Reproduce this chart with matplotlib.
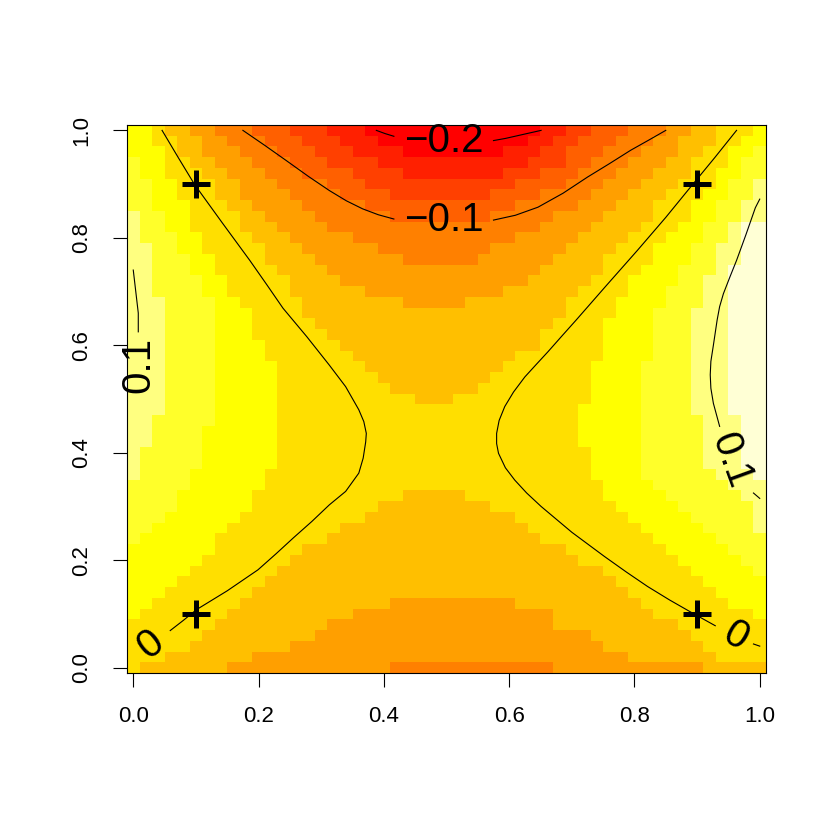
import numpy as np
import matplotlib
matplotlib.use("Agg")
import matplotlib.pyplot as plt
from matplotlib.colors import ListedColormap, BoundaryNorm

plt.rcParams["font.family"] = ["Liberation Sans", "DejaVu Sans"]

# heat.colors(12), lowest class first
heat_colors = ["#FF0000", "#FF2000", "#FF4000", "#FF6000", "#FF8000", "#FF9F00",
               "#FFBF00", "#FFDF00", "#FFFF00", "#FFFF2A", "#FFFF80", "#FFFFD5"]

# colour class of each cell (hex digit), top row (y = 1) first
cell_rows = [
    "8876655444 3332221110 0000000000 0001122333 4445566777 8",
    "8877665544 4333222111 0000000000 0011223334 4455666778 8",
    "8887665554 4433322211 1100000000 1112233344 4555667788 9",
    "9887766555 4443332222 1111111111 1122233444 5556677789 9",
    "9887776655 5444333322 2211111111 2223334445 5566677889 9",
    "9988777665 5544443332 2222222222 2333344455 5666777899 a",
    "9988777665 5554444333 3222222223 3334444555 6667778899 a",
    "9988877766 5555444443 3333333333 3444445556 667778899a a",
    "a998877776 6555544444 4333333334 4444555566 667778899a a",
    "a998877776 6655554444 4444444444 4445555666 67778899ab b",
    "a999887777 6665555544 4444444444 4555556666 77788899ab b",
    "aa99887777 7666555555 4444444445 5555566667 7788899aab b",
    "aa99988777 7666655555 5544444455 5555666677 7788899aab b",
    "aa99988777 7766665555 5555555555 5556666677 7888999abb b",
    "aa99998877 7776666555 5555555555 5566666777 888899aabb b",
    "aa99998877 7776666665 5555555555 6666667777 888999aabb b",
    "aaa9999887 7777666666 6655555666 6666677778 888999aabb b",
    "aaa9999888 7777666666 6666666666 6666677778 88999aaabb b",
    "aaa9999888 7777766666 6666666666 6666777788 88999aaabb b",
    "aaa9999888 7777776666 6666666666 6667777788 88999aaabb b",
    "aaa9999888 8777777666 6666666666 6667777788 88999aaabb b",
    "aaa9999888 8777777766 6666666666 6777777788 88999aaabb b",
    "aaa9999888 8877777776 6666666666 7777777888 89999aaabb b",
    "aaa9999888 8877777777 6666666667 7777777888 89999aaabb b",
    "aaa9999888 8877777777 7666666677 7777777888 89999aaabb b",
    "aaa9999888 8877777777 7776667777 7777777888 89999aaabb b",
    "aaa9999888 8877777777 7777777777 7777778888 89999aaabb b",
    "aa99999888 8877777777 7777777777 7777778888 899999aaab b",
    "aa99998888 8877777777 7777777777 7777778888 899999aaab b",
    "aa99998888 8877777777 7777777777 7777778888 899999aaab b",
    "a999998888 8877777777 7777777777 7777777888 899999aaab b",
    "a999998888 8877777777 7777777777 7777777888 899999aaab b",
    "a999988888 8777777777 7777777777 7777777888 8999999aaa b",
    "9999988888 8777777777 7777777777 7777777788 88999999aa a",
    "9999888888 7777777777 7766666777 7777777788 888999999a a",
    "9999888888 7777777777 6666666667 7777777778 8888999999 a",
    "9998888887 7777777776 6666666666 6777777777 8888899999 a",
    "9988888877 7777777666 6666666666 6677777777 7888889999 a",
    "9888888777 7777776666 6666666666 6667777777 7788888999 9",
    "8888888777 7777666666 6666666666 6666677777 7778888899 9",
    "8888887777 7776666666 6666666666 6666667777 7777888889 9",
    "8888877777 7766666666 6666666666 6666666677 7777788888 9",
    "8888777777 7666666666 6666666666 6666666667 7777778888 8",
    "8887777777 6666666666 6666666666 6666666666 7777777888 8",
    "8877777776 6666666666 6555555555 5666666666 6777777788 8",
    "8777777766 6666666655 5555555555 5555666666 6677777777 8",
    "7777777666 6666665555 5555555555 5555666666 6666777777 7",
    "7777776666 6666655555 5555555555 5555555666 6666677777 7",
    "7777766666 6665555555 5555555555 5555555566 6666667777 7",
    "7776666666 5555555555 5555555555 5555555555 6666666777 7",
    "7666666655 5555555555 5444444444 4444555555 5555556666 6",
]

# contour lines, with the gaps R leaves for labels
zero_left_x = [0.046, 0.072, 0.098, 0.142, 0.186, 0.213, 0.239, 0.277, 0.313, 0.339,
               0.360, 0.368, 0.372, 0.371, 0.367, 0.360, 0.339, 0.313, 0.285, 0.256,
               0.228, 0.199, 0.150, 0.101, 0.080, 0.059]
zero_left_y = [1.0, 0.949, 0.899, 0.828, 0.758, 0.713, 0.669, 0.616, 0.563, 0.523,
               0.480, 0.458, 0.436, 0.420, 0.390, 0.362, 0.328, 0.303, 0.272, 0.242,
               0.212, 0.182, 0.143, 0.108, 0.088, 0.069]
zero_right_x = [0.963, 0.928, 0.892, 0.850, 0.805, 0.755, 0.707, 0.684, 0.662, 0.643,
                0.625, 0.607, 0.593, 0.584, 0.580, 0.580, 0.583, 0.594, 0.609, 0.628,
                0.651, 0.700, 0.752, 0.787, 0.821, 0.856, 0.892, 0.929]
zero_right_y = [1.0, 0.949, 0.898, 0.838, 0.777, 0.711, 0.647, 0.617, 0.588, 0.564,
                0.541, 0.513, 0.486, 0.460, 0.436, 0.417, 0.399, 0.372, 0.349, 0.325,
                0.300, 0.252, 0.207, 0.178, 0.151, 0.126, 0.102, 0.078]
zero_tail_x = [0.99, 1.0]
zero_tail_y = [0.044, 0.040]
m01_left_x = [0.175, 0.210, 0.244, 0.280, 0.313, 0.340, 0.366, 0.391, 0.416]
m01_left_y = [1.0, 0.972, 0.944, 0.914, 0.888, 0.869, 0.854, 0.843, 0.835]
m01_right_x = [0.575, 0.610, 0.646, 0.686, 0.725, 0.760, 0.794, 0.823, 0.850]
m01_right_y = [0.833, 0.842, 0.857, 0.883, 0.913, 0.938, 0.963, 0.982, 1.0]
m02_left_x = [0.388, 0.402, 0.416]
m02_left_y = [1.0, 0.994, 0.989]
m02_right_x = [0.575, 0.594, 0.613, 0.632, 0.651]
m02_right_y = [0.981, 0.985, 0.990, 0.995, 1.0]
p01_left_x = [0.0, 0.002, 0.004, 0.006, 0.008, 0.008]
p01_left_y = [0.74, 0.72, 0.70, 0.68, 0.66, 0.625]
p01_right_x = [1.0, 0.993, 0.978, 0.963, 0.952, 0.942, 0.936, 0.932, 0.926, 0.922,
               0.921, 0.922, 0.926, 0.936]
p01_right_y = [0.872, 0.856, 0.806, 0.758, 0.726, 0.696, 0.672, 0.647, 0.600, 0.570,
               0.545, 0.520, 0.492, 0.449]
p01_tail_x = [0.99, 1.0]
p01_tail_y = [0.325, 0.315]

contour_labels = ["\u22120.2", "\u22120.1", "0", "0", "0.1", "0.1"]
label_x = [0.495, 0.495, 0.027, 0.961, 0.008, 0.954]
label_y = [0.981, 0.833, 0.043, 0.058, 0.563, 0.385]
label_angle = [0, 0, 38, -30, 90, -70]

point_x = [0.1, 0.1, 0.9, 0.9]
point_y = [0.1, 0.9, 0.1, 0.9]

tick_values = [0.0, 0.2, 0.4, 0.6, 0.8, 1.0]
tick_labels = ["0.0", "0.2", "0.4", "0.6", "0.8", "1.0"]

levels = np.array([[int(c, 16) for c in row.replace(" ", "")] for row in cell_rows])[::-1]
assert levels.shape == (51, 51)
grid_x = np.linspace(0, 1, levels.shape[1])
grid_y = np.linspace(0, 1, levels.shape[0])

fig = plt.figure(figsize=(8.3, 8.3), dpi=100)
ax = fig.add_axes([127 / 830, 157 / 830, 639 / 830, 548 / 830])

cmap = ListedColormap(heat_colors)
norm = BoundaryNorm(np.arange(-0.5, len(heat_colors)), cmap.N)
ax.pcolormesh(grid_x, grid_y, levels, cmap=cmap, norm=norm, shading="nearest")

lines = [(zero_left_x, zero_left_y), (zero_right_x, zero_right_y), (zero_tail_x, zero_tail_y),
         (m01_left_x, m01_left_y), (m01_right_x, m01_right_y),
         (m02_left_x, m02_left_y), (m02_right_x, m02_right_y),
         (p01_left_x, p01_left_y), (p01_right_x, p01_right_y), (p01_tail_x, p01_tail_y)]
for xs, ys in lines:
    ax.plot(xs, ys, color="black", lw=0.8, solid_joinstyle="round")

for s, x, y, a in zip(contour_labels, label_x, label_y, label_angle):
    ax.text(x, y, s, rotation=a, rotation_mode="anchor", ha="center", va="center",
            fontsize=29, color="black")

ax.plot(point_x, point_y, linestyle="none", marker="+", markersize=20,
        markeredgewidth=3.6, color="black")

ax.set_xlim(grid_x[0] - 0.01, grid_x[-1] + 0.01)
ax.set_ylim(grid_y[0] - 0.01, grid_y[-1] + 0.01)
ax.set_xticks(tick_values, tick_labels)
ax.set_yticks(tick_values, tick_labels, rotation=90, va="center")
ax.tick_params(direction="out", length=10, width=0.8, labelsize=16)
ax.tick_params(axis="x", pad=14)
ax.tick_params(axis="y", pad=15)
for sp in ax.spines.values():
    sp.set_linewidth(0.8)

fig.savefig("out.png", dpi=100)
